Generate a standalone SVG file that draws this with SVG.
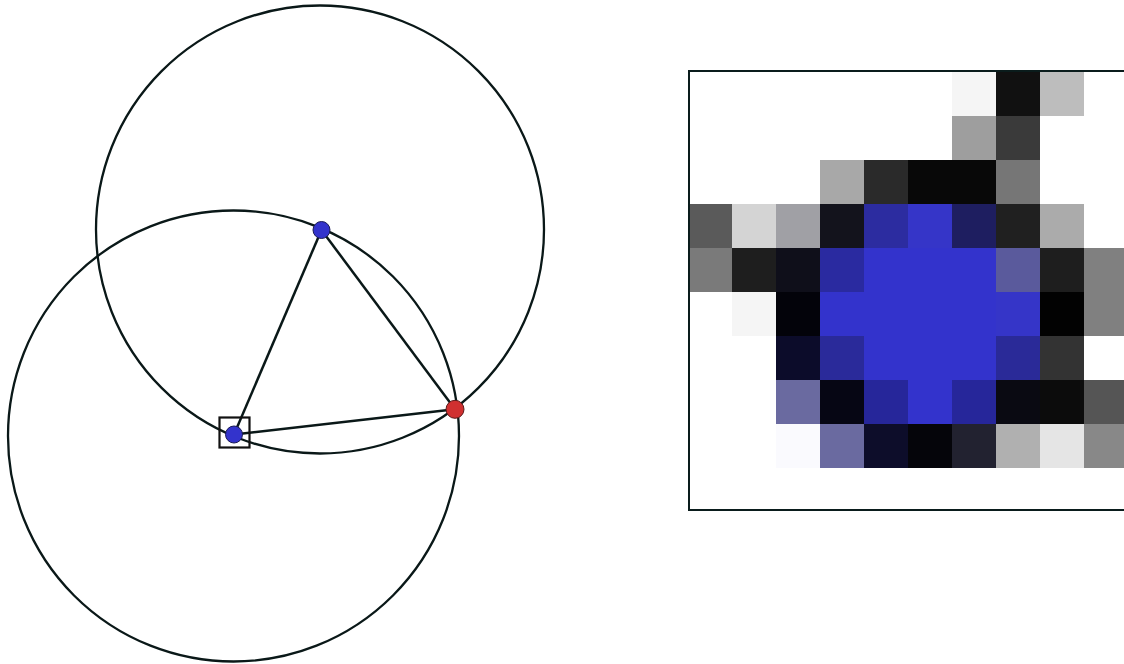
<svg xmlns="http://www.w3.org/2000/svg" width="1124" height="664" viewBox="0 0 1124 664">
<style>
.c{fill:none;stroke:#0a1818;stroke-width:2.3}
.l{stroke:#0a1818;stroke-width:2.5}
.b{fill:#3333cc;stroke:#1a1a55;stroke-width:1}
.r{fill:#d03030;stroke:#5a1a1a;stroke-width:1}
</style>
<rect width="1124" height="664" fill="#fff"/>
<g id="circles">
<circle class="c" cx="320" cy="229.5" r="224"/>
<circle class="c" cx="233.5" cy="436" r="225.5"/>
</g>
<g id="connectors">
<line class="l" x1="234" y1="434.5" x2="321.5" y2="230"/>
<line class="l" x1="321.5" y1="230" x2="455" y2="409.3"/>
<line class="l" x1="234" y1="434.5" x2="455" y2="409.3"/>
</g>
<g id="nodeA">
<rect x="219.5" y="417.5" width="30" height="30" fill="none" stroke="#111" stroke-width="2.2"/>
<circle class="b" cx="234" cy="434.5" r="8.5"/>
</g>
<g id="nodeB"><circle class="b" cx="321.5" cy="230" r="8.5"/></g>
<g id="nodeC"><circle class="r" cx="455" cy="409.3" r="9"/></g>
<g id="inset" shape-rendering="crispEdges">
<rect x="688" y="72" width="440" height="438" fill="#fff"/>
<g transform="translate(688,72)">
<rect x="264" y="0" width="44" height="44" fill="#f5f5f5"/>
<rect x="308" y="0" width="44" height="44" fill="#111111"/>
<rect x="352" y="0" width="44" height="44" fill="#bdbdbd"/>
<rect x="264" y="44" width="44" height="44" fill="#9e9e9e"/>
<rect x="308" y="44" width="44" height="44" fill="#3a3a3a"/>
<rect x="132" y="88" width="44" height="44" fill="#a8a8a8"/>
<rect x="176" y="88" width="44" height="44" fill="#2a2a2a"/>
<rect x="220" y="88" width="44" height="44" fill="#080808"/>
<rect x="264" y="88" width="44" height="44" fill="#080808"/>
<rect x="308" y="88" width="44" height="44" fill="#767676"/>
<rect x="0" y="132" width="44" height="44" fill="#5a5a5a"/>
<rect x="44" y="132" width="44" height="44" fill="#d4d4d4"/>
<rect x="88" y="132" width="44" height="44" fill="#a0a0a5"/>
<rect x="132" y="132" width="44" height="44" fill="#13131c"/>
<rect x="176" y="132" width="44" height="44" fill="#2c2ca0"/>
<rect x="220" y="132" width="44" height="44" fill="#3535c8"/>
<rect x="264" y="132" width="44" height="44" fill="#1e1e60"/>
<rect x="308" y="132" width="44" height="44" fill="#202020"/>
<rect x="352" y="132" width="44" height="44" fill="#ababab"/>
<rect x="0" y="176" width="44" height="44" fill="#7a7a7a"/>
<rect x="44" y="176" width="44" height="44" fill="#1e1e1e"/>
<rect x="88" y="176" width="44" height="44" fill="#0f0f1a"/>
<rect x="132" y="176" width="44" height="44" fill="#2a2aa0"/>
<rect x="176" y="176" width="132" height="44" fill="#3333cc"/>
<rect x="308" y="176" width="44" height="44" fill="#5a5a9c"/>
<rect x="352" y="176" width="44" height="44" fill="#1e1e1e"/>
<rect x="396" y="176" width="44" height="44" fill="#808080"/>
<rect x="44" y="220" width="44" height="44" fill="#f5f5f5"/>
<rect x="88" y="220" width="44" height="44" fill="#03030a"/>
<rect x="132" y="220" width="176" height="44" fill="#3333cc"/>
<rect x="308" y="220" width="44" height="44" fill="#3535c8"/>
<rect x="352" y="220" width="44" height="44" fill="#020202"/>
<rect x="396" y="220" width="44" height="44" fill="#808080"/>
<rect x="88" y="264" width="44" height="44" fill="#0c0c2a"/>
<rect x="132" y="264" width="44" height="44" fill="#2a2a9a"/>
<rect x="176" y="264" width="132" height="44" fill="#3333cc"/>
<rect x="308" y="264" width="44" height="44" fill="#2a2a98"/>
<rect x="352" y="264" width="44" height="44" fill="#333333"/>
<rect x="88" y="308" width="44" height="44" fill="#6a6aa0"/>
<rect x="132" y="308" width="44" height="44" fill="#060614"/>
<rect x="176" y="308" width="44" height="44" fill="#26269a"/>
<rect x="220" y="308" width="44" height="44" fill="#3333cc"/>
<rect x="264" y="308" width="44" height="44" fill="#26269a"/>
<rect x="308" y="308" width="44" height="44" fill="#0a0a12"/>
<rect x="352" y="308" width="44" height="44" fill="#0c0c0c"/>
<rect x="396" y="308" width="44" height="44" fill="#555555"/>
<rect x="88" y="352" width="44" height="44" fill="#fafafe"/>
<rect x="132" y="352" width="44" height="44" fill="#6a6aa0"/>
<rect x="176" y="352" width="44" height="44" fill="#0d0d2a"/>
<rect x="220" y="352" width="44" height="44" fill="#05050a"/>
<rect x="264" y="352" width="44" height="44" fill="#222230"/>
<rect x="308" y="352" width="44" height="44" fill="#b0b0b0"/>
<rect x="352" y="352" width="44" height="44" fill="#e5e5e5"/>
<rect x="396" y="352" width="44" height="44" fill="#888888"/>
</g>
<rect x="689" y="71" width="450" height="439" fill="none" stroke="#0a1c1c" stroke-width="2.2"/>
</g>
</svg>
